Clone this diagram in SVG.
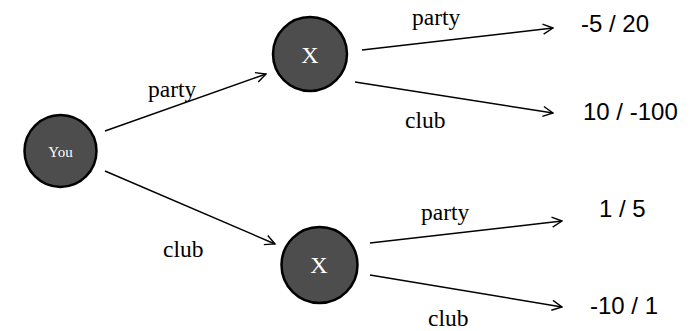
<svg xmlns="http://www.w3.org/2000/svg" width="693" height="331" viewBox="0 0 693 331">
<style>
.node{fill:#4d4d4d;stroke:#000;stroke-width:2.5}
.nt{font-family:"Liberation Serif",serif;fill:#fff;text-anchor:middle}
.lbl{font-family:"Liberation Serif",serif;font-size:23.5px;fill:#000}
.val{font-family:"Liberation Sans",sans-serif;font-size:24px;fill:#000}
.edge{stroke:#000;stroke-width:1.4;fill:none;marker-end:url(#arr)}
</style>
<defs>
<marker id="arr" viewBox="0 0 12 12" refX="11" refY="6" markerWidth="12" markerHeight="12" markerUnits="userSpaceOnUse" orient="auto">
<path d="M1,1 L11,6 L1,11" fill="none" stroke="#000" stroke-width="1.4"/>
</marker>
</defs>
<rect width="693" height="331" fill="#fff"/>
<g id="connectors">
<line class="edge" x1="105" y1="131" x2="266" y2="74"/>
<line class="edge" x1="105" y1="171" x2="275" y2="244"/>
<line class="edge" x1="362" y1="50" x2="553" y2="28"/>
<line class="edge" x1="355" y1="82" x2="553" y2="113"/>
<line class="edge" x1="370" y1="243" x2="562" y2="221"/>
<line class="edge" x1="370" y1="275" x2="562" y2="307"/>
</g>
<g id="labels">
<text class="lbl" x="148" y="97">party</text>
<text class="lbl" x="163" y="257">club</text>
<text class="lbl" x="412" y="25">party</text>
<text class="lbl" x="405" y="128">club</text>
<text class="lbl" x="421" y="220">party</text>
<text class="lbl" x="428" y="326">club</text>
</g>
<g id="node-you">
<circle class="node" cx="60.5" cy="151" r="36"/>
<text class="nt" x="60.5" y="157" font-size="15">You</text>
</g>
<g id="node-x1">
<circle class="node" cx="310" cy="54" r="37"/>
<text class="nt" x="310" y="63" font-size="24">X</text>
</g>
<g id="node-x2">
<circle class="node" cx="319.5" cy="265" r="38"/>
<text class="nt" x="319" y="273" font-size="24">X</text>
</g>
<g id="outcomes">
<text class="val" x="581" y="32">-5 / 20</text>
<text class="val" x="583" y="120">10 / -100</text>
<text class="val" x="599" y="217">1 / 5</text>
<text class="val" x="590" y="314">-10 / 1</text>
</g>
</svg>
